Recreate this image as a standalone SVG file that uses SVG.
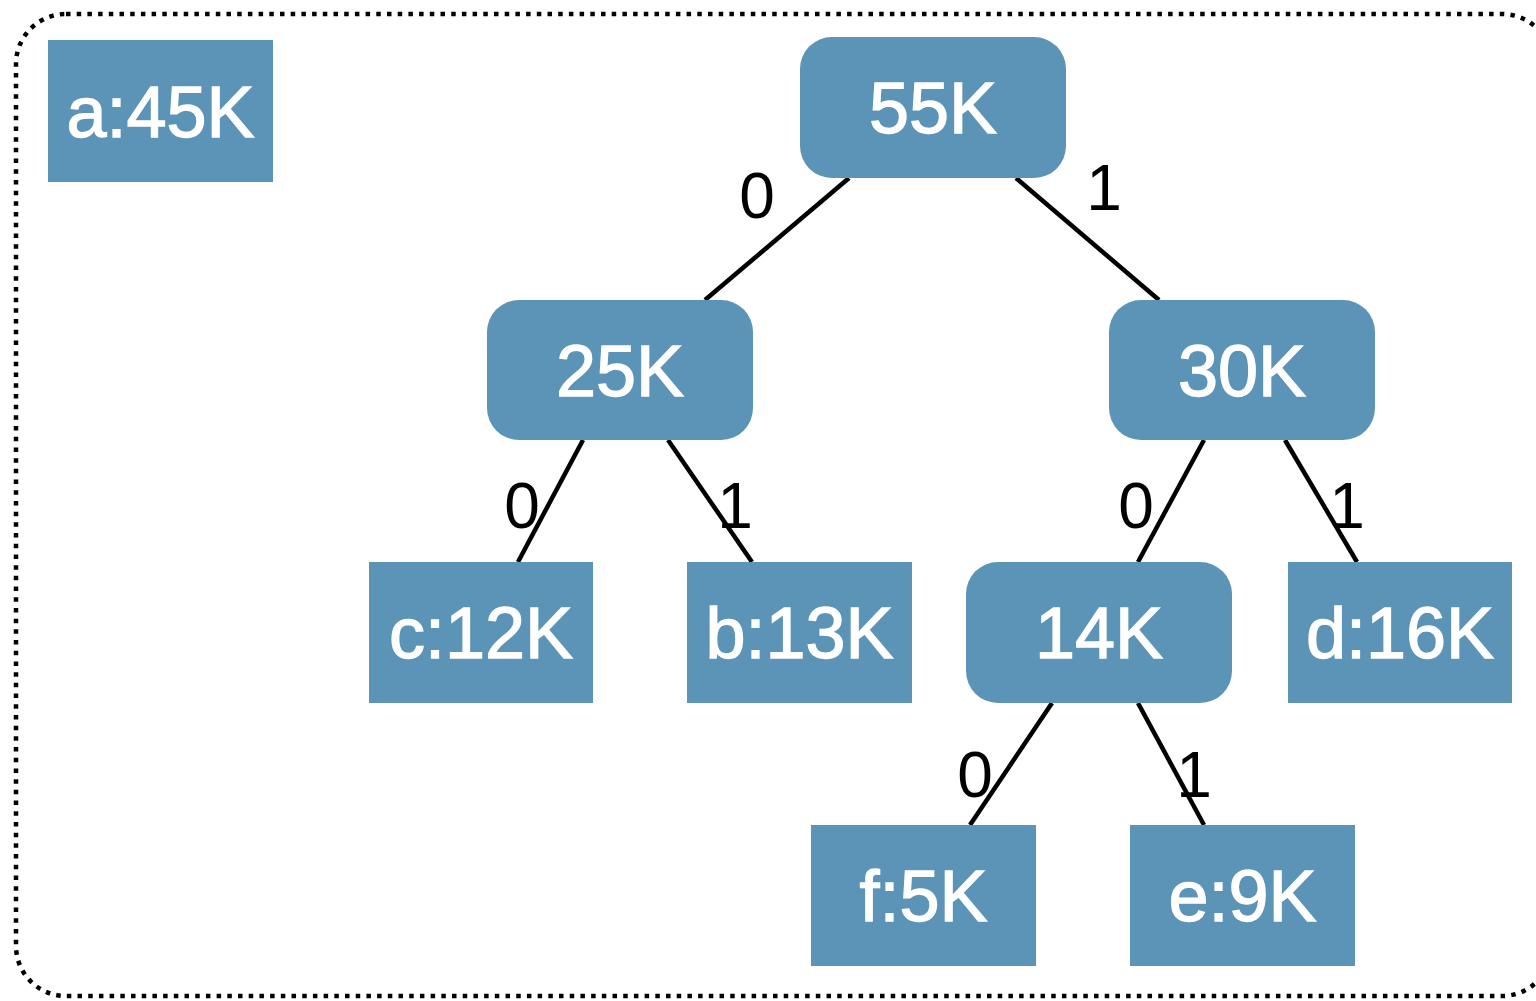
<svg xmlns="http://www.w3.org/2000/svg" width="1536" height="1001" viewBox="0 0 1536 1001">
<style>
.n{fill:#5b94b6}
.t{font-family:"Liberation Sans",Arial,sans-serif;font-size:72px;fill:#fff;stroke:#fff;stroke-width:1.3;text-anchor:middle}
.l{font-family:"Liberation Sans",Arial,sans-serif;font-size:64px;fill:#000;text-anchor:middle}
.e{stroke:#000;stroke-width:4.5;fill:none}
</style>
<rect x="16" y="14" width="1536" height="982" rx="50" ry="50" fill="none" stroke="#000" stroke-width="4.5" stroke-dasharray="4.5 6.2"/>
<g id="connectors">
<line class="e" x1="849" y1="178" x2="705" y2="300"/>
<line class="e" x1="1016" y1="178" x2="1159" y2="300"/>
<line class="e" x1="583" y1="440" x2="518" y2="562"/>
<line class="e" x1="668" y1="440" x2="752" y2="562"/>
<line class="e" x1="1204" y1="440" x2="1138" y2="562"/>
<line class="e" x1="1285" y1="440" x2="1357" y2="562"/>
<line class="e" x1="1052" y1="703" x2="970" y2="825"/>
<line class="e" x1="1138" y1="703" x2="1204" y2="825"/>
<text class="l" x="757" y="218">0</text>
<text class="l" x="1104" y="210">1</text>
<text class="l" x="522" y="528">0</text>
<text class="l" x="735" y="528">1</text>
<text class="l" x="1136" y="528">0</text>
<text class="l" x="1347" y="528">1</text>
<text class="l" x="975" y="797">0</text>
<text class="l" x="1194" y="797">1</text>
</g>
<g id="a"><rect class="n" x="48" y="40" width="225" height="142"/><text class="t" x="160.5" y="137">a:45K</text></g>
<g id="n55"><rect class="n" x="800" y="37" width="266" height="141" rx="32"/><text class="t" x="933" y="133">55K</text></g>
<g id="n25"><rect class="n" x="487" y="300" width="266" height="140" rx="32"/><text class="t" x="620" y="396">25K</text></g>
<g id="n30"><rect class="n" x="1109" y="300" width="266" height="140" rx="32"/><text class="t" x="1242" y="396">30K</text></g>
<g id="c"><rect class="n" x="369" y="562" width="224" height="141"/><text class="t" x="481" y="658">c:12K</text></g>
<g id="b"><rect class="n" x="687" y="562" width="225" height="141"/><text class="t" x="799.5" y="658">b:13K</text></g>
<g id="n14"><rect class="n" x="966" y="562" width="266" height="141" rx="32"/><text class="t" x="1099" y="658">14K</text></g>
<g id="d"><rect class="n" x="1288" y="562" width="224" height="141"/><text class="t" x="1400" y="658">d:16K</text></g>
<g id="f"><rect class="n" x="811" y="825" width="225" height="141"/><text class="t" x="923.5" y="921">f:5K</text></g>
<g id="e"><rect class="n" x="1130" y="825" width="225" height="141"/><text class="t" x="1242.5" y="921">e:9K</text></g>
</svg>
